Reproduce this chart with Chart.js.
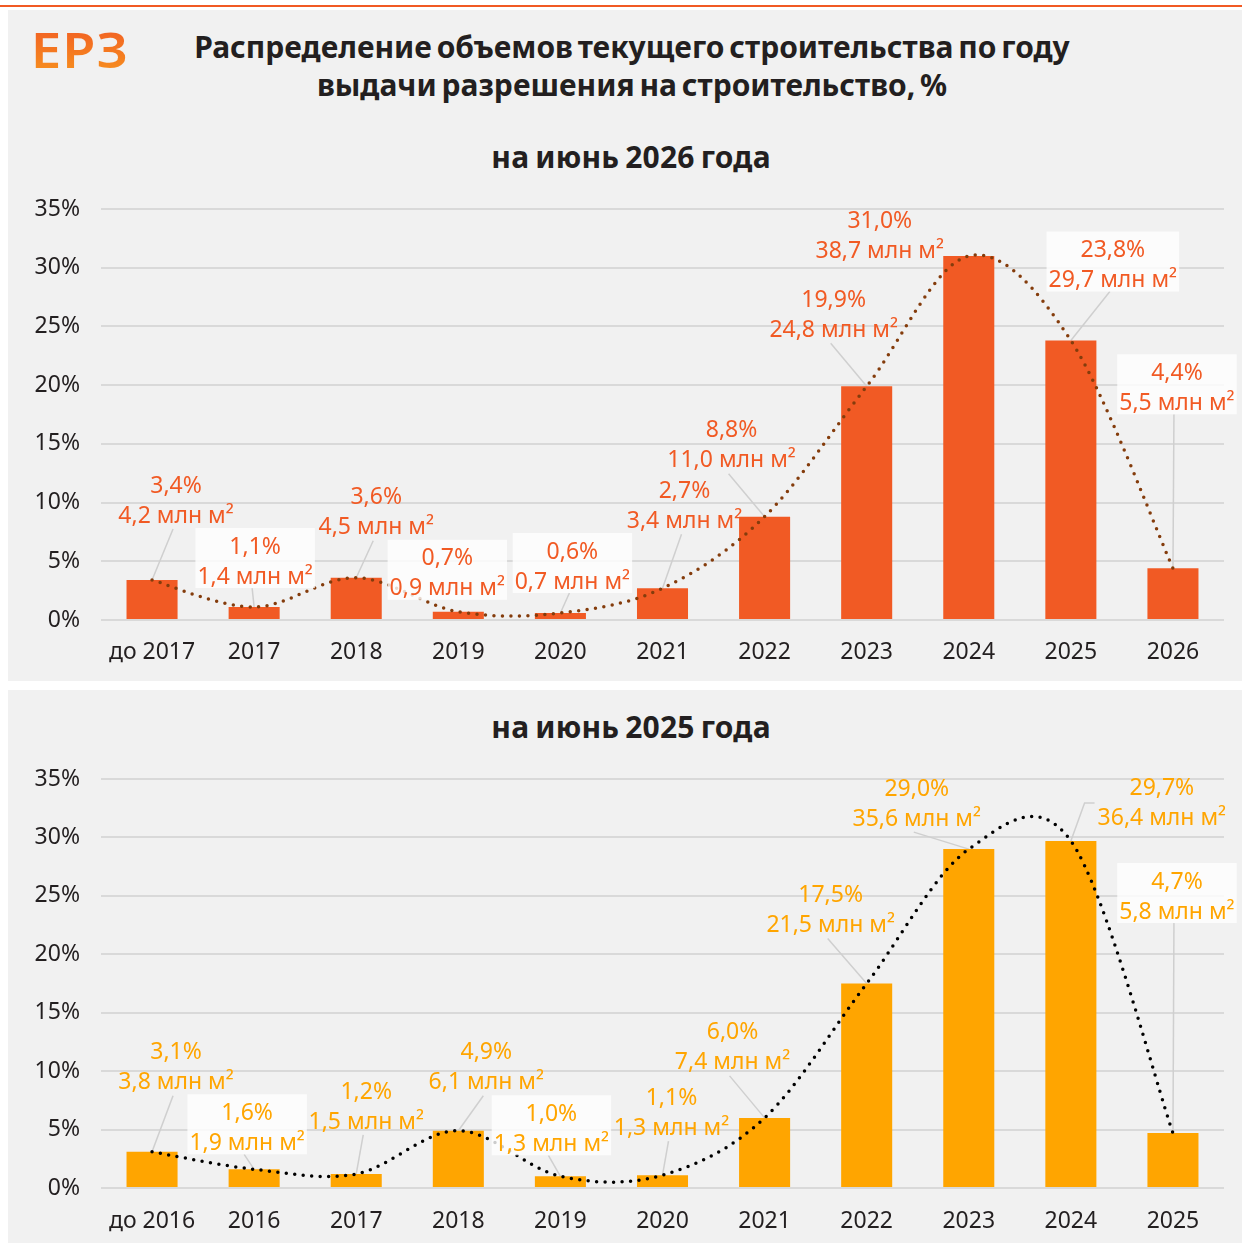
<!DOCTYPE html>
<html lang="ru">
<head>
<meta charset="UTF-8">
<title>Распределение объемов текущего строительства</title>
<script src="https://cdn.jsdelivr.net/npm/chart.js"></script>
<style>
  body { margin: 0; background: #fff; width: 1242px; height: 1243px; position: relative; overflow: hidden; font-family: "Noto Sans", sans-serif; }
  .topline { position: absolute; left: 0; top: 5px; width: 1242px; height: 2px; background: #f15a24; }
  .panel { position: absolute; left: 8px; width: 1234px; background: #f1f1f1; }
  .logo { position: absolute; left: 31px; top: 21px; font-size: 49px; font-weight: 600; letter-spacing: 1px;
          transform: scaleX(1.1); transform-origin: left top;
          background: linear-gradient(180deg, #f15a24, #f7931e); -webkit-background-clip: text; background-clip: text; color: transparent; line-height: 56px; }
  .title { position: absolute; left: 0; width: 1264px; text-align: center; font-weight: 700; color: #231f20; font-size: 30px; letter-spacing: 0; word-spacing: -3px; line-height: 38px; }
  .sub { position: absolute; left: 0; width: 1262px; text-align: center; font-weight: 700; color: #231f20; font-size: 30px; letter-spacing: 0.2px; word-spacing: -2px; line-height: 38px; }
  .box { position: absolute; left: 8px; width: 1234px; }
</style>
</head>
<body>
<div class="topline"></div>
<div class="panel" style="top:10px;height:671px"></div>
<div class="panel" style="top:690px;height:553px"></div>
<div class="logo">ЕРЗ</div>
<div class="title" style="top:28px">Распределение объемов текущего строительства по году<br>выдачи разрешения на строительство, %</div>
<div class="sub" style="top:138px">на июнь 2026 года</div>
<div class="sub" style="top:708px">на июнь 2025 года</div>
<div class="box" style="top:180px;height:500px"><canvas id="chart2026"></canvas></div>
<div class="box" style="top:750px;height:493px"><canvas id="chart2025"></canvas></div>
<script>
// ---- data ----
const years2026 = ['до 2017', '2017', '2018', '2019', '2020', '2021', '2022', '2023', '2024', '2025', '2026'];
const share2026 = [3.4, 1.1, 3.6, 0.7, 0.6, 2.7, 8.8, 19.9, 31.0, 23.8, 4.4];
const area2026 = [4.2, 1.4, 4.5, 0.9, 0.7, 3.4, 11.0, 24.8, 38.7, 29.7, 5.5];

const years2025 = ['до 2016', '2016', '2017', '2018', '2019', '2020', '2021', '2022', '2023', '2024', '2025'];
const share2025 = [3.1, 1.6, 1.2, 4.9, 1.0, 1.1, 6.0, 17.5, 29.0, 29.7, 4.7];
const area2025 = [3.8, 1.9, 1.5, 6.1, 1.3, 1.3, 7.4, 21.5, 35.6, 36.4, 5.8];

// label placement relative to bar top (px), white box flag, leader type (0 none, 1 line, 2 elbow)
const labelDx2026 = [24, 1, 20, -11, 12, 22, -33, -33, -89, 42, 4];
const labelDy2026 = [-94, -60, -80, -53, -61, -97, -86, -86, -35, -90, -195];
const boxed2026 = [0, 1, 0, 1, 1, 0, 0, 0, 0, 1, 1];
const leader2026 = [1, 1, 1, 0, 1, 1, 1, 1, 0, 1, 1];

const labelDx2025 = [24, -7, 10, 28, -9, 9, -32, -36, -52, 91, 4];
const labelDy2025 = [-99, -56, -82, -78, -62, -77, -85, -88, -60, -52, -251];
const boxed2025 = [0, 1, 0, 0, 1, 0, 0, 0, 0, 0, 1];
const leader2025 = [1, 1, 1, 1, 1, 1, 1, 1, 1, 2, 1];

const fmt = v => v.toFixed(1).replace('.', ',');
const labelFont = '23px "Noto Sans", sans-serif';
const tickFont = { size: 23, family: '"Noto Sans", sans-serif' };

// Excel-like smoothing (uniform Catmull-Rom) for the dotted line
const smoothLine = {
  id: 'smoothLine',
  beforeDatasetsDraw(chart) {
    chart.data.datasets.forEach((ds, i) => {
      if (ds.type !== 'line') return;
      const meta = chart.getDatasetMeta(i);
      meta.dataset.updateControlPoints(chart.chartArea, 'x');
      const pts = meta.data;
      pts.forEach((p, k) => {
        const prev = pts[k - 1] || p, next = pts[k + 1] || p;
        const tx = (next.x - prev.x) / 6, ty = (next.y - prev.y) / 6;
        p.cp1x = p.x - tx; p.cp1y = p.y - ty;
        p.cp2x = p.x + tx; p.cp2y = p.y + ty;
      });
    });
  }
};

function labelPlugin(area, dxs, dys, boxed, leaders, color) {
  const spots = chart => {
    const meta = chart.getDatasetMeta(1);
    const ctx = chart.ctx;
    ctx.font = labelFont;
    return meta.data.map((bar, i) => {
      const lx = bar.x + dxs[i], ly = bar.y + dys[i];
      const t1 = fmt(chart.data.datasets[1].data[i]) + '%';
      const t2 = fmt(area[i]) + ' млн м²';
      const w = Math.max(ctx.measureText(t1).width, ctx.measureText(t2).width);
      return { bar, lx, ly, t1, t2, w };
    });
  };
  return {
    id: 'labels',
    beforeDatasetsDraw(chart) {
      const ctx = chart.ctx;
      ctx.save();
      ctx.strokeStyle = '#cfcfcf';
      ctx.lineWidth = 1.5;
      spots(chart).forEach((s, i) => {
        if (!leaders[i]) return;
        ctx.beginPath();
        if (leaders[i] === 2) {
          const sx = s.lx - s.w / 2 - 3, sy = s.ly + 14;
          ctx.moveTo(sx, sy);
          ctx.lineTo(sx - 10, sy);
          ctx.lineTo(s.bar.x, s.bar.y);
        } else {
          const sy = boxed[i] ? s.ly + 41 : s.ly + 43;
          ctx.moveTo(s.lx - 3, sy);
          ctx.lineTo(s.bar.x, s.bar.y);
        }
        ctx.stroke();
      });
      ctx.restore();
    },
    afterDatasetsDraw(chart) {
      const ctx = chart.ctx;
      ctx.save();
      spots(chart).forEach((s, i) => {
        if (boxed[i]) {
          ctx.fillStyle = 'rgba(255,255,255,0.8)';
          ctx.fillRect(s.lx - s.w / 2 - 2, s.ly - 19, s.w + 4, 60);
        }
        ctx.fillStyle = color;
        ctx.font = labelFont;
        ctx.textAlign = 'center';
        ctx.textBaseline = 'middle';
        ctx.fillText(s.t1, s.lx, s.ly);
        ctx.fillText(s.t2, s.lx, s.ly + 30);
      });
      ctx.restore();
    }
  };
}

function makeChart(id, labels, shares, area, barColor, lineColor, dxs, dys, boxed, leaders, xHeight, xPad) {
  return new Chart(document.getElementById(id), {
    data: {
      labels: labels,
      datasets: [
        {
          type: 'line',
          data: shares,
          order: 0,
          borderColor: lineColor,
          borderWidth: 3.5,
          borderDash: [0, 8.5],
          borderCapStyle: 'round',
          tension: 0.33,
          pointRadius: 0,
          fill: false
        },
        {
          type: 'bar',
          data: shares,
          order: 1,
          backgroundColor: barColor,
          barPercentage: 0.5,
          categoryPercentage: 1
        }
      ]
    },
    options: {
      responsive: true,
      maintainAspectRatio: false,
      animation: false,
      layout: { padding: { top: 29, right: 18, left: 0, bottom: 0 } },
      plugins: { legend: { display: false }, tooltip: { enabled: false } },
      scales: {
        x: {
          grid: { display: false },
          border: { display: false },
          ticks: { color: '#231f20', font: tickFont, padding: xPad, maxRotation: 0 },
          afterFit(scale) { scale.height = xHeight; }
        },
        y: {
          min: 0, max: 35,
          grid: { color: '#d9d9d9', lineWidth: 2, drawTicks: false },
          border: { display: false },
          ticks: { stepSize: 5, color: '#231f20', font: tickFont, padding: 21,
                   callback: v => v + '%' },
          afterFit(scale) {
            scale.width = 93;
            scale.paddingTop = 14;
            scale.paddingBottom = 14;
          }
        }
      }
    },
    plugins: [smoothLine, labelPlugin(area, dxs, dys, boxed, leaders, barColor)]
  });
}

makeChart('chart2026', years2026, share2026, area2026, '#f15a24', '#843c0c',
  labelDx2026, labelDy2026, boxed2026, leader2026, 60, 11);
makeChart('chart2025', years2025, share2025, area2025, '#ffa500', '#000000',
  labelDx2025, labelDy2025, boxed2025, leader2025, 55, 12);
</script>
</body>
</html>
